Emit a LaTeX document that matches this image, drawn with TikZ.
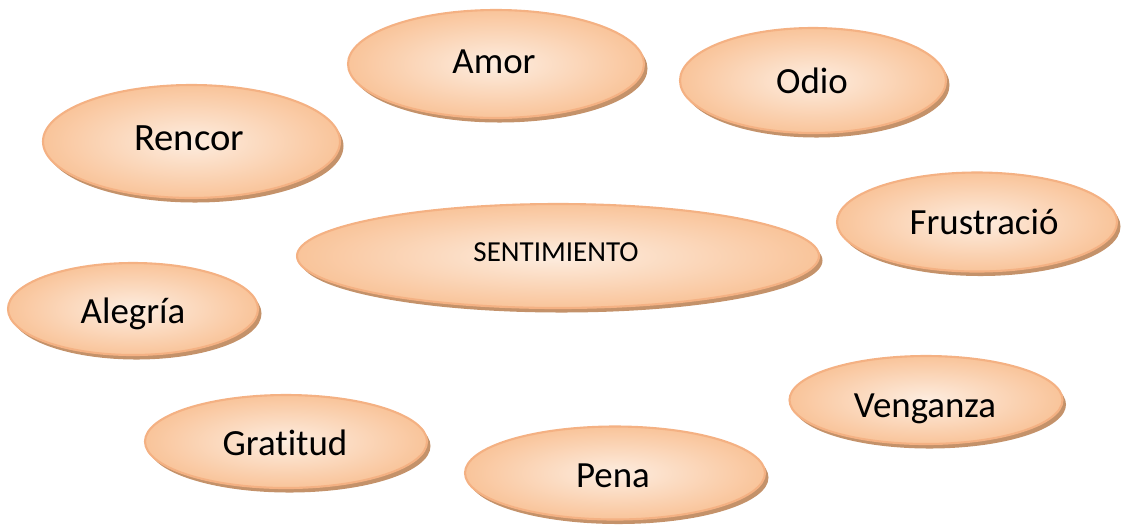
\documentclass[tikz,border=0pt]{standalone}
\usepackage{fontspec}
\setmainfont{Carlito}[Ligatures=NoCommon]
\usepackage{xcolor}
\usepackage{tikz}
\usetikzlibrary{shapes.geometric,shadows}

\definecolor{peachin}{HTML}{FDEDE0}
\definecolor{peachout}{HTML}{F9C49A}
\definecolor{peachline}{HTML}{F4B183}
\definecolor{shadowbrown}{HTML}{C4926A}

\newlength\emopx
\setlength\emopx{0.02cm}
% label: shift right, shift down (in px), text
\newcommand{\emolbl}[3]{\smash{\raisebox{-#2\emopx}{\makebox[0pt]{\kern#1\emopx\kern#1\emopx#3}}}}

\tikzset{
  emo/.style={ellipse, draw=peachline, line width=1.2pt, inner sep=0pt,
    shading=radial, inner color=peachin, outer color=peachout,
    general shadow={fill=shadowbrown, shadow xshift=0.07cm, shadow yshift=-0.09cm},
    font=\fontsize{21}{25}\selectfont},
}

\begin{document}
\begin{tikzpicture}[x=0.02cm,y=-0.02cm]
        \useasboundingbox (0,0) rectangle (1138,529);
        \node[emo,minimum width=296\emopx,minimum height=108\emopx] (amor) at (496,64) {\emolbl{-2}{9}{Amor}};
        \node[emo,minimum width=266\emopx,minimum height=105\emopx] (odio) at (813,80.5) {\emolbl{-1}{12.5}{Odio}};
        \node[emo,minimum width=297\emopx,minimum height=113\emopx,font=\fontsize{22}{26}\selectfont] (rencor) at (191.5,141.5) {\emolbl{-2.5}{8.5}{Rencor}};
        \node[emo,minimum width=522\emopx,minimum height=104\emopx,font=\fontsize{16.5}{20}\selectfont] (sentimiento) at (558,256) {\emolbl{-2}{5}{SENTIMIENTO}};
        \node[emo,minimum width=280\emopx,minimum height=99\emopx] (frustracio) at (977,222) {\emolbl{7}{12}{Frustració}};
        \node[emo,minimum width=250\emopx,minimum height=92\emopx] (alegria) at (133,309) {\emolbl{0}{14}{Alegría}};
        \node[emo,minimum width=273\emopx,minimum height=88\emopx] (venganza) at (926,400) {\emolbl{-1}{17}{Venganza}};
        \node[emo,minimum width=282\emopx,minimum height=93\emopx] (gratitud) at (286,441.5) {\emolbl{-1}{13.5}{Gratitud}};
        \node[emo,minimum width=300\emopx,minimum height=93\emopx] (pena) at (615,473) {\emolbl{-2}{14}{Pena}};
    \end{tikzpicture}
\end{document}
